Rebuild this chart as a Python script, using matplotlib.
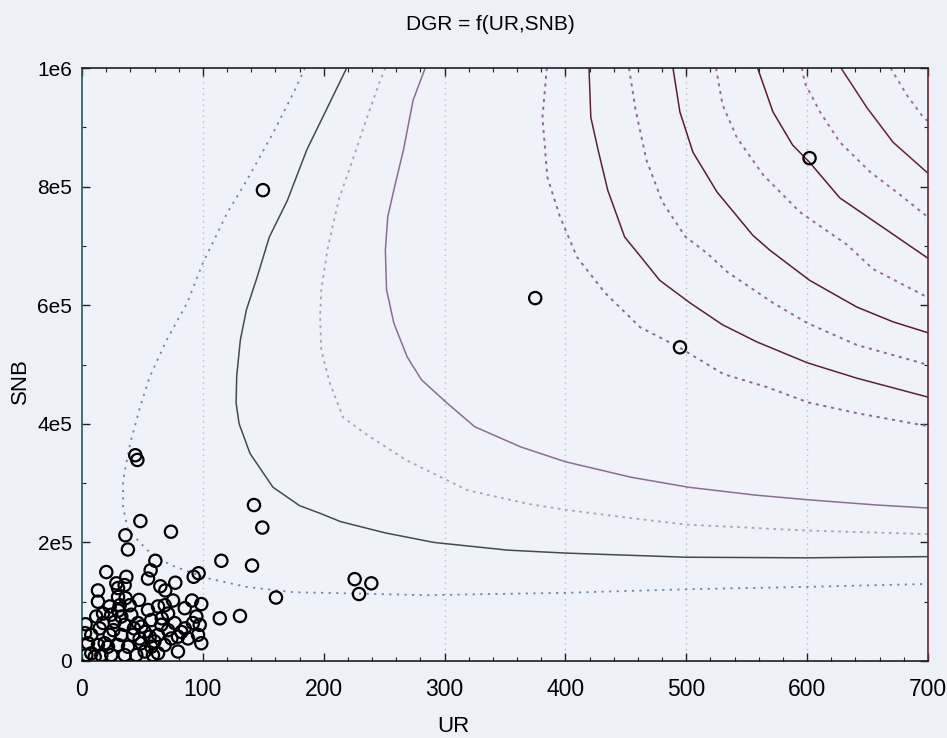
import numpy as np
import matplotlib
matplotlib.use("Agg")
import matplotlib.pyplot as plt
from matplotlib.ticker import MultipleLocator

plt.rcParams['font.family'] = ['Liberation Sans Narrow', 'Liberation Sans', 'DejaVu Sans']

# contour lines of DGR = f(UR, SNB) (UR, SNB)
c1_ur = [184.5, 175, 158, 136.5, 120, 100, 87, 70, 56, 48, 40, 34, 34, 38, 54, 73, 103, 136, 175, 200, 285, 400, 500, 600, 700]
c1_snb = [1.0e6, 9.58e5, 8.9e5, 8.11e5, 7.55e5, 6.71e5, 6.04e5, 5.41e5, 4.79e5, 4.28e5, 3.68e5, 3.05e5, 2.6e5,
          2.21e5, 1.87e5, 1.62e5, 1.4e5, 1.25e5, 1.16e5, 1.15e5, 1.11e5, 1.15e5, 1.21e5, 1.25e5, 1.30e5]
c2_ur = [219, 203, 186, 170, 155, 145, 136, 131, 128, 127.5, 130, 139, 158, 180, 197, 214, 251, 291, 352, 400, 500, 600, 700]
c2_snb = [1.0e6, 9.33e5, 8.62e5, 7.77e5, 7.15e5, 6.48e5, 5.92e5, 5.41e5, 4.8e5, 4.35e5, 4.0e5, 3.5e5, 2.93e5,
          2.62e5, 2.49e5, 2.35e5, 2.16e5, 2.0e5, 1.87e5, 1.82e5, 1.75e5, 1.74e5, 1.76e5]
c3_ur = [251, 246, 233, 222, 213, 208, 203, 198, 197, 198, 205, 216, 234, 268, 319, 369, 400, 450, 500, 600, 700]
c3_snb = [1.0e6, 9.75e5, 9.0e5, 8.33e5, 7.82e5, 7.39e5, 6.93e5, 6.26e5, 5.8e5, 5.24e5, 4.69e5, 4.11e5, 3.84e5,
          3.39e5, 2.88e5, 2.65e5, 2.55e5, 2.42e5, 2.30e5, 2.20e5, 2.14e5]
c4_ur = [284, 274, 266, 258, 253, 251, 252, 258, 269, 281, 302, 325, 363, 400, 454, 502, 556, 600, 658, 700]
c4_snb = [1.0e6, 9.46e5, 8.62e5, 7.94e5, 7.49e5, 6.93e5, 6.26e5, 5.7e5, 5.13e5, 4.74e5, 4.35e5, 3.95e5, 3.61e5,
          3.36e5, 3.1e5, 2.93e5, 2.8e5, 2.72e5, 2.63e5, 2.58e5]
c5_ur = [384.6, 381, 385, 395.5, 409.6, 432.7, 461.7, 494, 530.6, 566.5, 601, 641, 700]
c5_snb = [1.0e6, 9.17e5, 8.16e5, 7.49e5, 6.81e5, 6.21e5, 5.63e5, 5.29e5, 4.84e5, 4.62e5, 4.36e5, 4.18e5, 3.96e5]
c6_ur = [419.5, 421, 427, 435, 449, 463, 478, 503, 530, 558.5, 600, 641, 700]
c6_snb = [1.0e6, 9.17e5, 8.62e5, 7.94e5, 7.15e5, 6.8e5, 6.42e5, 6.04e5, 5.67e5, 5.38e5, 5.03e5, 4.77e5, 4.45e5]
c7_ur = [452.6, 458, 467, 480, 499, 517, 534, 571.7, 600, 641, 700.8]
c7_snb = [1.0e6, 9.3e5, 8.45e5, 7.75e5, 7.16e5, 6.88e5, 6.56e5, 6.04e5, 5.70e5, 5.33e5, 4.99e5]
c8_ur = [489, 494.7, 505.5, 525.4, 555, 569, 602, 641, 671, 700.8]
c8_snb = [1.0e6, 9.26e5, 8.58e5, 7.91e5, 7.18e5, 6.93e5, 6.42e5, 5.97e5, 5.72e5, 5.53e5]
c9_ur = [524.6, 530, 542, 563.5, 594, 633, 654.5, 700.8]
c9_snb = [1.0e6, 9.38e5, 8.82e5, 8.2e5, 7.57e5, 7.02e5, 6.61e5, 6.12e5]
c10_ur = [559, 571.7, 588, 602, 627, 660, 700.8]
c10_snb = [1.0e6, 9.26e5, 8.7e5, 8.41e5, 7.81e5, 7.35e5, 6.78e5]
c11_ur = [595.7, 598, 610.6, 627, 652, 677, 700.8]
c11_snb = [1.0e6, 9.75e5, 9.26e5, 8.75e5, 8.25e5, 7.86e5, 7.47e5]
c12_ur = [628, 649.5, 671, 700.8]
c12_snb = [1.0e6, 9.33e5, 8.75e5, 8.21e5]
c13_ur = [669, 682.6, 696, 700.8]
c13_snb = [1.0e6, 9.54e5, 9.17e5, 9.09e5]

# observations
pts_ur = [149.7, 375, 494.8, 602,
          44.1, 45.8, 142.3, 149.2, 48.3, 73.6, 35.9, 38, 60.7, 115.3, 140.7, 56.8, 54.6, 96.5, 92.4, 20.1,
          36.7, 28.4, 35.3, 29.8, 77.2, 64.8, 68.9, 13.2, 225.6, 239.4, 229.2, 160.5, 36.1, 47.2, 75.3, 91, 98.7,
          114, 130.7,
          62.9, 39.5, 31.2, 22.9, 17.4, 11.8, 24.2, 32.5, 40.8, 54.6, 71.2, 85, 94.6, 97.4, 96, 98.7, 27.1,
          35.3, 46.3, 57.3, 65.6, 76.7, 82.2, 73.9, 62.9, 51.9, 42.2, 32.5, 22.9, 14.6, 7.7, 5.0, 13.2, 21.5,
          29.8, 38.1, 49.1, 57.3, 68.4, 79.4, 62.9, 44.9, 35.3, 24.2, 16.0, 7.7, 3.6, 51.9,
          13.2, 17.4, 56, 58.7, 49.1, 71.2, 79.4, 10.5, 68.4, 29.8, 87.7, 91.8, 18.8, 47.7, 2.5, 3.0,
          26, 43, 60, 85, 30, 66]
pts_snb = [7.94e5, 6.12e5, 5.29e5, 8.48e5,
           3.47e5, 3.39e5, 2.63e5, 2.25e5, 2.36e5, 2.18e5, 2.12e5, 1.88e5, 1.69e5, 1.69e5, 1.61e5, 1.53e5,
           1.39e5, 1.48e5, 1.42e5, 1.50e5, 1.42e5, 1.31e5, 1.28e5, 1.23e5, 1.32e5, 1.26e5, 1.19e5, 1.19e5,
           1.38e5, 1.31e5, 1.13e5, 1.07e5, 1.06e5, 1.03e5, 1.02e5, 1.02e5, 0.96e5,
           0.72e5, 0.76e5,
           0.92e5, 0.94e5, 0.94e5, 0.92e5, 0.80e5, 0.75e5, 0.78e5, 0.75e5, 0.78e5, 0.86e5, 0.80e5, 0.89e5,
           0.75e5, 0.61e5, 0.44e5, 0.30e5, 0.66e5, 0.61e5, 0.64e5, 0.69e5, 0.61e5, 0.64e5, 0.49e5, 0.38e5,
           0.44e5, 0.49e5, 0.44e5, 0.44e5, 0.44e5, 0.55e5, 0.44e5, 0.30e5, 0.27e5, 0.24e5, 0.27e5, 0.24e5,
           0.30e5, 0.24e5, 0.27e5, 0.41e5, 0.13e5, 0.10e5, 0.10e5, 0.10e5, 0.10e5, 0.13e5, 0.10e5, 0.16e5,
           1.0e5, 0.64e5, 0.41e5, 0.10e5, 0.58e5, 0.52e5, 0.16e5, 0.07e5, 0.94e5, 1.08e5, 0.38e5, 0.64e5,
           0.30e5, 0.38e5, 0.47e5, 0.62e5,
           0.52e5, 0.55e5, 0.33e5, 0.55e5, 0.85e5, 0.72e5]

x_ticks = [0, 100, 200, 300, 400, 500, 600, 700]
y_ticks = [0, 2e5, 4e5, 6e5, 8e5, 1e6]
y_labels = ["0", "2e5", "4e5", "6e5", "8e5", "1e6"]
grid_x = [100, 300, 400, 500, 600]

dots = (0, (1.6, 2.4))
contours = [
    (c1_ur, c1_snb, '#6688aa', (0, (1.2, 3.0)), 1.3),
    (c2_ur, c2_snb, '#3f4f47', '-', 1.1),
    (c3_ur, c3_snb, '#a2a6ae', (0, (1.5, 2.5)), 1.3),
    (c4_ur, c4_snb, '#8a6e92', '-', 1.1),
    (c5_ur, c5_snb, '#8a6a96', dots, 1.4),
    (c6_ur, c6_snb, '#5a2430', '-', 1.1),
    (c7_ur, c7_snb, '#8f6a96', dots, 1.4),
    (c8_ur, c8_snb, '#5a1e2a', '-', 1.1),
    (c9_ur, c9_snb, '#9a6a90', dots, 1.4),
    (c10_ur, c10_snb, '#5e1c2a', '-', 1.1),
    (c11_ur, c11_snb, '#a06a90', dots, 1.4),
    (c12_ur, c12_snb, '#6a2232', '-', 1.1),
    (c13_ur, c13_snb, '#a87098', dots, 1.4),
]

fig = plt.figure(figsize=(9.47, 7.38), dpi=100, facecolor='#eef0f8')
ax = fig.add_axes([82/947, 1-661/738, 846/947, 593/738])
ax.set_facecolor('#f0f2fa')

for gx in grid_x:
    ax.axvline(gx, color='#b8bcc8', lw=1.0, ls=(0, (1, 3)), zorder=1)

for ur, snb, col, ls, lw in contours:
    ax.plot(ur, snb, color=col, ls=ls, lw=lw, zorder=2)

ax.scatter(pts_ur, pts_snb, s=78, facecolors='none', edgecolors='black', linewidths=1.6, zorder=3)

ax.set_xlim(0, 700)
ax.set_ylim(0, 1e6)
ax.set_xticks(x_ticks)
ax.set_yticks(y_ticks)
ax.set_yticklabels(y_labels)
ax.xaxis.set_minor_locator(MultipleLocator(20))
ax.yaxis.set_minor_locator(MultipleLocator(1e5))
ax.tick_params(which='both', direction='in', top=True, right=True, color='#222222')
ax.tick_params(which='major', length=6, width=1.0)
ax.tick_params(which='minor', length=3, width=0.8)
ax.tick_params(axis='x', labelsize=16.5, pad=12)
ax.tick_params(axis='y', labelsize=15, pad=7)

for side in ['top', 'bottom']:
    ax.spines[side].set_color('#1e1e1e')
ax.spines['left'].set_color('#1f5f5f')
ax.spines['right'].set_color('#6a2a2a')
for sp in ax.spines.values():
    sp.set_linewidth(1.2)

fig.text(490/947, 1-24/738, "DGR = f(UR,SNB)", ha='center', va='center', fontsize=15, family=['Liberation Sans', 'DejaVu Sans'])
fig.text(453/947, 1-727/738, "UR", ha='center', va='center', fontsize=16, family=['Liberation Sans Narrow', 'Liberation Sans', 'DejaVu Sans'])
fig.text(20/947, 1-381/738, "SNB", ha='center', va='center', rotation=90, fontsize=16, family=['Liberation Sans', 'DejaVu Sans'])

plt.savefig("out.png", dpi=100, facecolor=fig.get_facecolor())
